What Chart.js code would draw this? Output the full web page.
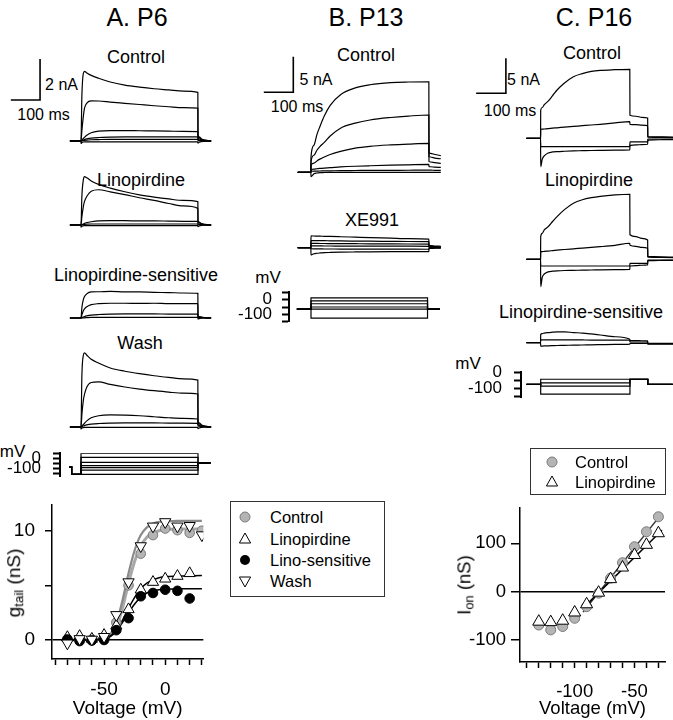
<!DOCTYPE html>
<html>
<head>
<meta charset="utf-8">
<script src="https://cdn.jsdelivr.net/npm/chart.js@4.4.1/dist/chart.umd.min.js"></script>
<style>
body { margin: 0; background: #fff; }
#fig { position: relative; width: 673px; height: 720px; overflow: hidden; background: #fff;
       font-family: "Liberation Sans", Arial, Helvetica, sans-serif; color: #000; }
#fig canvas { position: absolute; }
.txt { position: absolute; white-space: nowrap; line-height: 1; transform: translate(-50%, -50%); }
.legend { position: absolute; border: 1px solid #333; box-sizing: border-box; }
.row { position: absolute; white-space: nowrap; line-height: 1; transform: translateY(-50%); }
.mk { position: absolute; transform: translate(-50%, -50%); }
sub { font-size: 70%; vertical-align: -0.25em; }
</style>
</head>
<body>
<div id="fig"></div>
<script>
// ---------- data ----------

// panel A (P6) current traces: time in ms, current in nA
const tA = [-38, -0.5, 0, 3, 8, 12, 20, 35, 60, 100, 150, 200, 250, 300, 350, 399.5, 400, 404, 412, 425, 445];
const aControl = [
    [0, 0, 0, 2.2, 3.3, 3.4, 3.32, 3.2, 3.06, 2.88, 2.73, 2.63, 2.55, 2.49, 2.43, 2.37, 0.3, 0.2, 0.1, 0.04, 0],
    [0, 0, 0, 0.5, 1.2, 1.6, 1.85, 1.96, 1.95, 1.9, 1.84, 1.78, 1.72, 1.67, 1.63, 1.6, 0.22, 0.16, 0.08, 0.03, 0],
    [0, 0, 0, 0.05, 0.12, 0.18, 0.28, 0.4, 0.48, 0.51, 0.51, 0.5, 0.49, 0.48, 0.47, 0.46, 0.14, 0.1, 0.05, 0.02, 0],
    [0, 0, 0, 0.02, 0.05, 0.07, 0.1, 0.14, 0.17, 0.19, 0.2, 0.2, 0.2, 0.2, 0.2, 0.2, 0.07, 0.05, 0.03, 0.01, 0],
    [0, 0, 0, 0.01, 0.02, 0.03, 0.04, 0.06, 0.07, 0.08, 0.08, 0.08, 0.08, 0.08, 0.08, 0.08, 0.03, 0.02, 0.01, 0, 0],
    [0, 0, -0.12, -0.08, -0.05, -0.04, -0.04, -0.04, -0.04, -0.04, -0.04, -0.04, -0.04, -0.04, -0.04, -0.04, -0.1, -0.06, -0.03, -0.01, 0]
];
const aLino = [
    [0, 0, 0, 1.4, 2.2, 2.36, 2.3, 2.15, 1.98, 1.8, 1.62, 1.47, 1.36, 1.27, 1.2, 1.14, 0.2, 0.14, 0.07, 0.03, 0],
    [0, 0, 0, 0.4, 0.9, 1.15, 1.4, 1.65, 1.72, 1.62, 1.48, 1.33, 1.2, 1.05, 0.93, 0.81, 0.15, 0.1, 0.05, 0.02, 0],
    [0, 0, 0, 0.02, 0.05, 0.08, 0.12, 0.16, 0.2, 0.21, 0.21, 0.2, 0.2, 0.19, 0.18, 0.18, 0.06, 0.04, 0.02, 0.01, 0],
    [0, 0, 0, 0.01, 0.02, 0.03, 0.04, 0.05, 0.05, 0.05, 0.05, 0.05, 0.05, 0.05, 0.05, 0.05, 0.02, 0.01, 0, 0, 0],
    [0, 0, -0.1, -0.06, -0.04, -0.03, -0.03, -0.03, -0.03, -0.03, -0.03, -0.03, -0.03, -0.03, -0.03, -0.03, -0.08, -0.05, -0.02, -0.01, 0]
];
const aSensitive = [
    [0, 0, 0, 0.5, 0.9, 1.05, 1.18, 1.27, 1.28, 1.3, 1.27, 1.27, 1.25, 1.24, 1.22, 1.2, 0.1, 0.07, 0.04, 0.02, 0],
    [0, 0, 0, 0.15, 0.35, 0.45, 0.55, 0.65, 0.7, 0.72, 0.72, 0.71, 0.72, 0.7, 0.7, 0.7, 0.08, 0.05, 0.03, 0.01, 0],
    [0, 0, 0, 0.02, 0.05, 0.07, 0.1, 0.14, 0.17, 0.19, 0.2, 0.2, 0.2, 0.19, 0.19, 0.19, 0.04, 0.03, 0.02, 0.01, 0],
    [0, 0, 0, 0, 0.01, 0.01, 0.02, 0.03, 0.03, 0.03, 0.03, 0.03, 0.03, 0.03, 0.03, 0.03, -0.05, -0.03, -0.01, 0, 0]
];
const aWash = [
    [0, 0, 0, 2.5, 3.5, 3.62, 3.5, 3.3, 3.12, 2.88, 2.72, 2.6, 2.5, 2.42, 2.35, 2.29, 0.3, 0.2, 0.1, 0.04, 0],
    [0, 0, 0, 0.6, 1.3, 1.6, 1.95, 2.17, 2.2, 2.08, 1.95, 1.85, 1.77, 1.7, 1.65, 1.61, 0.22, 0.15, 0.08, 0.03, 0],
    [0, 0, 0, 0.05, 0.12, 0.18, 0.3, 0.45, 0.55, 0.59, 0.58, 0.55, 0.5, 0.45, 0.42, 0.39, 0.12, 0.08, 0.04, 0.02, 0],
    [0, 0, 0, 0.02, 0.05, 0.07, 0.1, 0.14, 0.17, 0.19, 0.2, 0.2, 0.2, 0.19, 0.19, 0.18, 0.06, 0.04, 0.02, 0.01, 0],
    [0, 0, -0.1, -0.05, -0.03, -0.02, -0.02, -0.02, -0.02, -0.02, -0.02, -0.02, -0.02, -0.02, -0.02, -0.02, -0.08, -0.05, -0.02, -0.01, 0]
];
// scale bar A: 100 ms, 2 nA
const barA_t = [-240, -140, -140];
const barA_i = [2, 2, 4];

// panel A voltage protocol (ms, mV)
const protoA_t = [-40, -32, -32, 0, 0, 400, 400, 443];
const holdA = -81, preA = -156, postA = -42;
const levelsA = [55, 14, -36, -69, -89, -114, -156];

// panel B (P13) current traces
const tB = [-45, -0.5, 0, 10, 20, 30, 45, 65, 100, 150, 200, 270, 330, 399.5, 400, 405, 420, 440];
const bControl = [
    [0, 0, 2.2, 3.8, 5.3, 6.4, 7.9, 9.4, 10.9, 11.85, 12.3, 12.6, 12.68, 12.7, 2.7, 2.65, 2.5, 2.35],
    [0, 0, 1.5, 2.4, 3.1, 3.6, 4.2, 5.1, 6.2, 6.9, 7.35, 7.7, 7.9, 8.05, 2.2, 2.15, 2.0, 1.9],
    [0, 0, 1.0, 1.3, 1.6, 1.85, 2.15, 2.5, 2.95, 3.4, 3.65, 3.85, 3.97, 4.07, 1.5, 1.45, 1.35, 1.25],
    [0, 0, 0.4, 0.45, 0.5, 0.55, 0.6, 0.65, 0.75, 0.85, 0.92, 1.0, 1.05, 1.1, 0.8, 0.78, 0.72, 0.68],
    [0, 0, 0.15, 0.16, 0.17, 0.18, 0.2, 0.21, 0.23, 0.25, 0.27, 0.28, 0.29, 0.3, 0.3, 0.3, 0.28, 0.26],
    [0, 0, -0.6, -0.2, -0.1, -0.05, -0.03, -0.02, -0.02, -0.02, -0.02, -0.02, -0.02, -0.02, 0, 0, 0, 0]
];
const bXE991 = [
    [0, 0, 1.65, 1.64, 1.63, 1.62, 1.6, 1.58, 1.54, 1.48, 1.42, 1.34, 1.27, 1.2, 0.3, 0.28, 0.24, 0.2],
    [0, 0, 1.0, 1.0, 0.99, 0.99, 0.98, 0.97, 0.95, 0.93, 0.91, 0.89, 0.87, 0.85, 0.2, 0.18, 0.15, 0.12],
    [0, 0, 0.6, 0.6, 0.6, 0.59, 0.59, 0.58, 0.57, 0.56, 0.55, 0.53, 0.52, 0.5, 0.1, 0.1, 0.08, 0.06],
    [0, 0, 0.25, 0.25, 0.25, 0.25, 0.24, 0.24, 0.23, 0.23, 0.22, 0.21, 0.21, 0.2, 0.05, 0.05, 0.04, 0.03],
    [0, 0, -0.15, -0.16, -0.17, -0.17, -0.18, -0.18, -0.19, -0.19, -0.2, -0.2, -0.21, -0.22, -0.05, -0.05, -0.04, -0.03],
    [0, 0, -1.03, -0.85, -0.78, -0.74, -0.7, -0.67, -0.63, -0.6, -0.58, -0.56, -0.55, -0.55, -0.1, -0.1, -0.08, -0.06]
];
const barB_t = [-160, -60, -60];
const barB_i = [11.24, 11.24, 16.24];

const protoB_t = [-48, 0, 0, 395, 395, 437];
const holdB = -65;
const levelsB = [12, -8, -28, -50, -65, -125];

// panel C (P16) current traces
const tC = [-48, -0.5, 0, 5, 12, 25, 40, 55, 80, 110, 140, 170, 200, 250, 299.5, 300, 320, 340, 359.5, 360, 380, 410, 445];
const cControl = [
    [0, 0, 4.0, 4.4, 4.8, 5.3, 6.1, 6.9, 7.9, 8.8, 9.25, 9.55, 9.7, 9.8, 9.86, 3.3, 3.15, 3.0, 2.9, 0.25, 0.22, 0.2, 0.18],
    [0, 0, 1.29, 1.3, 1.33, 1.38, 1.45, 1.5, 1.6, 1.7, 1.8, 1.9, 2.0, 2.2, 2.37, 2.0, 1.95, 1.88, 1.8, 0.15, 0.14, 0.12, 0.1],
    [0, 0, -1.2, -1.2, -1.2, -1.2, -1.2, -1.2, -1.2, -1.2, -1.2, -1.2, -1.2, -1.2, -1.2, -0.5, -0.5, -0.5, -0.5, -0.1, -0.1, -0.1, -0.1],
    [0, 0, -4.06, -3.0, -2.5, -2.1, -1.95, -1.9, -1.85, -1.8, -1.77, -1.74, -1.72, -1.7, -1.67, -1.0, -0.95, -0.9, -0.85, -0.25, -0.22, -0.2, -0.18]
];
const cLino = [
    [0, 0, 3.23, 3.7, 4.2, 4.66, 5.4, 6.09, 7.1, 8.0, 8.5, 8.8, 9.0, 9.2, 9.29, 3.5, 3.25, 3.0, 2.76, 0.4, 0.38, 0.35, 0.3],
    [0, 0, 1.09, 1.1, 1.13, 1.18, 1.24, 1.3, 1.4, 1.5, 1.6, 1.7, 1.8, 2.0, 2.29, 2.0, 1.85, 1.7, 1.57, 0.3, 0.28, 0.26, 0.24],
    [0, 0, -0.96, -0.96, -0.96, -0.96, -0.96, -0.96, -0.96, -0.96, -0.96, -0.96, -0.96, -0.96, -0.96, -0.57, -0.57, -0.57, -0.57, -0.1, -0.1, -0.1, -0.1],
    [0, 0, -3.9, -2.6, -2.1, -1.8, -1.7, -1.65, -1.6, -1.58, -1.55, -1.53, -1.5, -1.48, -1.45, -0.96, -0.9, -0.85, -0.8, -0.2, -0.18, -0.16, -0.15]
];
const cSensitive = [
    [0, 0, 1.2, 1.3, 1.38, 1.45, 1.5, 1.55, 1.55, 1.45, 1.38, 1.25, 1.1, 0.85, 0.5, 0.3, 0.3, 0.28, 0.25, -0.15, -0.15, -0.15, -0.15],
    [0, 0, 0.4, 0.4, 0.4, 0.4, 0.4, 0.4, 0.4, 0.4, 0.39, 0.38, 0.38, 0.37, 0.36, 0.1, 0.1, 0.1, 0.1, -0.1, -0.1, -0.1, -0.1],
    [0, 0, -0.5, -0.48, -0.46, -0.44, -0.42, -0.4, -0.38, -0.35, -0.33, -0.3, -0.28, -0.25, -0.2, -0.1, -0.1, -0.1, -0.1, -0.2, -0.2, -0.2, -0.2]
];
const barC_t = [-217, -117, -117];
const barC_i = [6.43, 6.43, 11.43];

const protoC_t = [-48, 0, 0, 300, 300, 360, 360, 444];
const holdC = -76, tailC = -44;
const levelsC = [-44, -67, -87, -137];

// panel A: g_tail vs voltage (mV, nS)
const gV = [-80, -70, -60, -50, -40, -30, -20, -10, 0, 10, 20, 30];
const gControl = [0.1, 0.0, 0.05, 0.15, 1.6, 5.0, 7.9, 9.6, 10.2, 10.05, 9.8, 10.0];
const gLino = [0.25, 0.35, 0.1, 0.45, 1.3, 2.8, 4.6, 5.3, 5.6, 5.85, 6.1];
const gSensitive = [0.05, -0.1, -0.05, 0, 0.9, 2.0, 4.0, 4.3, 4.6, 4.5, 3.8];
const gWash = [-0.3, 0.1, 0.05, 0.3, 2.3, 5.3, 8.6, 10.4, 10.8, 10.4, 10.45, 9.6];
// fitted curves as drawn
const fitV = [-85, -55, -50, -45, -40, -35, -30, -25, -20, -15, -10, -5, 0, 10, 30];
const fitControl = [0, 0.05, 0.12, 0.4, 1.2, 2.9, 5.2, 7.2, 8.6, 9.4, 9.8, 10.0, 10.1, 10.15, 10.15];
const fitWash = [0, 0.05, 0.15, 0.5, 1.6, 3.6, 6.1, 8.2, 9.6, 10.3, 10.65, 10.8, 10.85, 10.9, 10.9];
const fitLino = [0, 0.05, 0.1, 0.35, 0.9, 1.8, 2.9, 3.9, 4.7, 5.2, 5.5, 5.7, 5.8, 5.85, 5.9];
const fitSensitive = [0, 0.03, 0.08, 0.3, 0.8, 1.6, 2.5, 3.3, 3.9, 4.3, 4.5, 4.6, 4.65, 4.7, 4.7];
const gXLabels = [-50, 0];
const gYLabels = [0, 10];

// panel C: I_on vs voltage (mV, nS)
const onV = [-130, -120, -110, -100, -90, -80, -70, -60, -50, -40, -30];
const onControl = [-69, -79, -72, -55, -31, -3, 28, 60, 93, 124, 155];
const onLino = [-62, -63, -60, -43, -26, -2, 26, 50, 76, 97, 121];
const onFitV = [-93, -27];
const onFitControl = [-42, 162];
const onFitLino = [-34, 127];
const onXLabels = [-100, -50];

// ---------- drawing ----------
Chart.defaults.font.family = '"Liberation Sans", Arial, Helvetica, sans-serif';
Chart.defaults.color = '#000';
const fig = document.getElementById('fig');
const NOPAD = {left: 0, top: 0, right: 0, bottom: 0};

function addText(html, x, y, size, rotate) {
    const d = document.createElement('div');
    d.className = 'txt';
    d.innerHTML = html;
    d.style.left = x + 'px';
    d.style.top = y + 'px';
    d.style.fontSize = size + 'px';
    if (rotate) d.style.transform = 'translate(-50%, -50%) rotate(-90deg)';
    fig.appendChild(d);
}

// canvas placed so that the plot area lands on "area" (page pixels)
function makeCanvas(area, pad) {
    const left = area.l - pad.left, top = area.t - pad.top;
    const w = Math.round(area.r + pad.right - left), h = Math.round(area.b + pad.bottom - top);
    const c = document.createElement('canvas');
    c.width = w; c.height = h;
    c.style.left = left + 'px'; c.style.top = top + 'px';
    c.style.width = w + 'px'; c.style.height = h + 'px';
    fig.appendChild(c);
    return c;
}

// axis limits from where a known value sits and the scale in px per unit
function rangeFrom(area, map) {
    return {
        xMin: (area.l - map.x0) / map.sx, xMax: (area.r - map.x0) / map.sx,
        yMax: (map.y0 - area.t) / map.sy, yMin: (map.y0 - area.b) / map.sy
    };
}

function series(xs, ys) {
    return ys.map((y, i) => ({x: xs[i], y: y}));
}

function baseOptions(padding, xScale, yScale) {
    return {
        responsive: false, animation: false, events: [],
        layout: {padding: padding},
        plugins: {legend: {display: false}, tooltip: {enabled: false}},
        scales: {x: xScale, y: yScale}
    };
}

function tracePanel(area, map, times, traces, barT, barI) {
    const r = rangeFrom(area, map);
    const datasets = traces.map(vals => ({
        data: series(times, vals), borderColor: '#000', borderWidth: 1.2,
        pointRadius: 0, cubicInterpolationMode: 'monotone'
    }));
    if (barT) {
        datasets.push({data: series(barT, barI), borderColor: '#000', borderWidth: 1.6, pointRadius: 0, tension: 0});
    }
    new Chart(makeCanvas(area, NOPAD), {
        type: 'line', data: {datasets},
        options: baseOptions(0,
            {type: 'linear', display: false, min: r.xMin, max: r.xMax},
            {type: 'linear', display: false, min: r.yMin, max: r.yMax})
    });
}

function protoPanel(area, pad, map, times, rows, labelPad) {
    const r = rangeFrom(area, map);
    const datasets = rows.map(vals => ({
        data: series(times, vals), borderColor: '#000', borderWidth: 1.2, pointRadius: 0, tension: 0
    }));
    new Chart(makeCanvas(area, pad), {
        type: 'line', data: {datasets},
        options: baseOptions({left: 0, top: pad.top, right: pad.right, bottom: pad.bottom},
            {type: 'linear', display: false, min: r.xMin, max: r.xMax},
            {type: 'linear', min: r.yMin, max: r.yMax,
             afterFit: s => { s.width = pad.left; },
             border: {color: '#000', width: 2},
             grid: {drawOnChartArea: false, tickLength: 7, tickWidth: 2, tickColor: '#000'},
             ticks: {stepSize: 50, includeBounds: false, autoSkip: false, padding: labelPad, font: {size: 17},
                     callback: v => (v === 0 || v === -100) ? String(v) : ''}})
    });
}

function ivPanel(area, pad, map, datasets, o) {
    const r = rangeFrom(area, map);
    new Chart(makeCanvas(area, pad), {
        type: 'line', data: {datasets},
        options: baseOptions({left: 0, top: pad.top, right: pad.right, bottom: 0},
            {type: 'linear', min: r.xMin, max: r.xMax,
             afterFit: s => { s.height = pad.bottom; },
             border: {color: '#000', width: 1.5},
             grid: {drawOnChartArea: false, tickLength: 6, tickWidth: 1.5, tickColor: '#000'},
             ticks: {stepSize: 10, includeBounds: false, autoSkip: false, maxRotation: 0, padding: 13,
                     font: {size: o.font}, callback: v => o.xLabels.includes(v) ? String(v) : ''},
             title: {display: true, text: 'Voltage (mV)', font: {size: o.font}, padding: {top: 0, bottom: 0}}},
            {type: 'linear', min: r.yMin, max: r.yMax,
             afterFit: s => { s.width = pad.left; },
             border: {color: '#000', width: 1.5},
             grid: {drawOnChartArea: true, lineWidth: 1.5, tickLength: o.tick, tickWidth: 1.5, tickColor: '#000',
                    color: ctx => (ctx.tick && ctx.tick.value === 0) ? '#000' : 'rgba(0,0,0,0)'},
             ticks: {stepSize: o.yStep, includeBounds: false, autoSkip: false, padding: o.yPad, font: {size: o.font},
                     callback: v => o.yLabels.includes(v) ? String(v) : ''}})
    });
}

const ctrlPts = {showLine: false, pointStyle: 'circle', pointRadius: 4.8, pointBackgroundColor: '#b4b4b4', pointBorderColor: '#7a7a7a', pointBorderWidth: 1};
const linoPts = {showLine: false, pointStyle: 'triangle', pointRadius: 6.5, pointBackgroundColor: '#fff', pointBorderColor: '#000', pointBorderWidth: 1};
const sensPts = {showLine: false, pointStyle: 'circle', pointRadius: 4.8, pointBackgroundColor: '#000', pointBorderColor: '#000', pointBorderWidth: 1};
const washPts = {showLine: false, pointStyle: 'triangle', pointRotation: 180, pointRadius: 6.5, pointBackgroundColor: '#fff', pointBorderColor: '#000', pointBorderWidth: 1};
const fitLine = (color, width) => ({pointRadius: 0, borderColor: color, borderWidth: width, cubicInterpolationMode: 'monotone'});

// panel titles and trace labels
addText('A. P6', 137, 17, 25);
addText('B. P13', 366, 17, 25);
addText('C. P16', 594, 17, 25);

addText('Control', 136, 57, 18);
addText('Linopirdine', 141, 180, 18);
addText('Linopirdine-sensitive', 136, 275, 18);
addText('Wash', 140, 343, 18);
addText('2 nA', 61.5, 85, 16);
addText('100 ms', 43.5, 115, 16);
addText('mV', 12.5, 451, 17);

addText('Control', 366, 55, 18);
addText('XE991', 372, 220, 18);
addText('5 nA', 316, 80, 16);
addText('100 ms', 297, 107, 16);
addText('mV', 268, 277, 17);

addText('Control', 592, 53, 18);
addText('Linopirdine', 589, 180, 18);
addText('Linopirdine-sensitive', 581, 312, 18);
addText('5 nA', 523.5, 80, 16);
addText('100 ms', 510, 111, 16);
addText('mV', 468, 363, 17);

// panel A traces
const mapA = {x0: 81, sx: 0.2925, sy: 20.5};
tracePanel({l: 0, t: 50, r: 220, b: 155}, Object.assign({y0: 141}, mapA), tA, aControl, barA_t, barA_i);
tracePanel({l: 0, t: 165, r: 220, b: 240}, Object.assign({y0: 225}, mapA), tA, aLino);
tracePanel({l: 0, t: 280, r: 220, b: 330}, Object.assign({y0: 318}, mapA), tA, aSensitive);
tracePanel({l: 0, t: 340, r: 220, b: 438}, Object.assign({y0: 427}, mapA), tA, aWash);
protoPanel({l: 60, t: 446, r: 220, b: 484}, {left: 60, top: 15, right: 0, bottom: 15},
    {x0: 81, sx: 0.2925, y0: 455, sy: 0.16}, protoA_t,
    levelsA.map(L => [holdA, holdA, preA, preA, L, L, postA, postA]), 12);

// panel B traces
const mapB = {x0: 311, sx: 0.295, sy: 7.12};
tracePanel({l: 245, t: 50, r: 450, b: 185}, Object.assign({y0: 172.3}, mapB), tB, bControl, barB_t, barB_i);
tracePanel({l: 245, t: 225, r: 450, b: 265}, Object.assign({y0: 247.7}, mapB), tB, bXE991);
protoPanel({l: 289, t: 287, r: 442, b: 327}, {left: 89, top: 15, right: 0, bottom: 15},
    {x0: 311, sx: 0.295, y0: 297, sy: 0.2}, protoB_t,
    levelsB.map(L => [holdB, holdB, L, L, holdB, holdB]), 10);

// panel C traces
const mapC = {x0: 540.7, sx: 0.2975, sy: 7};
tracePanel({l: 455, t: 50, r: 673, b: 178}, Object.assign({y0: 138.3}, mapC), tC, cControl, barC_t, barC_i);
tracePanel({l: 455, t: 183, r: 673, b: 292}, Object.assign({y0: 259.3}, mapC), tC, cLino);
tracePanel({l: 455, t: 320, r: 673, b: 357}, Object.assign({y0: 342.7}, mapC), tC, cSensitive);
protoPanel({l: 521, t: 365, r: 673, b: 405}, {left: 81, top: 15, right: 0, bottom: 15},
    {x0: 540.7, sx: 0.2975, y0: 365, sy: 0.25}, protoC_t,
    levelsC.map(L => [holdC, holdC, L, L, tailC, tailC, holdC, holdC]), 12);

// g_tail plot
ivPanel({l: 52, t: 505, r: 204, b: 659}, {left: 52, top: 25, right: 11, bottom: 61},
    {x0: 165.7, sx: 1.228, y0: 640, sy: 10.93}, [
        Object.assign({data: series(gV, gWash), order: 0}, washPts),
        Object.assign({data: series(gV, gSensitive), order: 1}, sensPts),
        Object.assign({data: series(gV, gLino), order: 2}, linoPts),
        Object.assign({data: series(gV, gControl), order: 3}, ctrlPts),
        Object.assign({data: series(fitV, fitLino), order: 4}, fitLine('#000', 1.5)),
        Object.assign({data: series(fitV, fitSensitive), order: 5}, fitLine('#000', 1.5)),
        Object.assign({data: series(fitV, fitWash), order: 6}, fitLine('#8a8a8a', 2.2)),
        Object.assign({data: series(fitV, fitControl), order: 7}, fitLine('#a8a8a8', 3))
    ], {font: 19, xLabels: gXLabels, yLabels: gYLabels, yStep: 5, yPad: 10, tick: 7});
addText('g<sub>tail</sub> (nS)', 15, 583, 19, true);

// I_on plot
ivPanel({l: 520, t: 508, r: 672, b: 662}, {left: 80, top: 23, right: 1, bottom: 58},
    {x0: 702.7, sx: 1.254, y0: 591.7, sy: 0.4833}, [
        Object.assign({data: series(onV, onLino), order: 0}, linoPts, {pointRadius: 7}),
        Object.assign({data: series(onV, onControl), order: 1}, ctrlPts, {pointRadius: 5}),
        Object.assign({data: series(onFitV, onFitLino), order: 2}, fitLine('#000', 1.5)),
        Object.assign({data: series(onFitV, onFitControl), order: 3}, fitLine('#333', 1.5))
    ], {font: 18.5, xLabels: onXLabels, yLabels: [-100, 0, 100], yStep: 100, yPad: 5, tick: 9});
addText('I<sub>on</sub> (nS)', 466, 585, 18.5, true);

// legends
const MARK = {
    control: '<svg width="14" height="14"><circle cx="7" cy="7" r="5" fill="#b4b4b4" stroke="#7a7a7a" stroke-width="1"/></svg>',
    lino: '<svg width="16" height="14"><polygon points="8,1 13.6,11 2.4,11" fill="#fff" stroke="#000" stroke-width="1"/></svg>',
    sens: '<svg width="14" height="14"><circle cx="7" cy="7" r="5" fill="#000"/></svg>',
    wash: '<svg width="16" height="14"><polygon points="8,13 13.6,3 2.4,3" fill="#fff" stroke="#000" stroke-width="1"/></svg>'
};
function addLegend(box, markX, textX, rows, size) {
    const d = document.createElement('div');
    d.className = 'legend';
    d.style.left = box.l + 'px'; d.style.top = box.t + 'px';
    d.style.width = (box.r - box.l) + 'px'; d.style.height = (box.b - box.t) + 'px';
    fig.appendChild(d);
    rows.forEach(row => {
        const m = document.createElement('div');
        m.className = 'mk';
        m.innerHTML = MARK[row[0]];
        m.style.left = markX + 'px'; m.style.top = row[2] + 'px';
        m.style.lineHeight = '0';
        fig.appendChild(m);
        const t = document.createElement('div');
        t.className = 'row';
        t.textContent = row[1];
        t.style.left = textX + 'px'; t.style.top = row[2] + 'px';
        t.style.fontSize = size + 'px';
        fig.appendChild(t);
    });
}
addLegend({l: 230, t: 501, r: 385, b: 597}, 245, 270,
    [['control', 'Control', 517], ['lino', 'Linopirdine', 539], ['sens', 'Lino-sensitive', 560], ['wash', 'Wash', 581]], 16.5);
addLegend({l: 530, t: 448, r: 666, b: 495}, 552, 575,
    [['control', 'Control', 462], ['lino', 'Linopirdine', 482]], 16.5);
</script>
</body>
</html>
